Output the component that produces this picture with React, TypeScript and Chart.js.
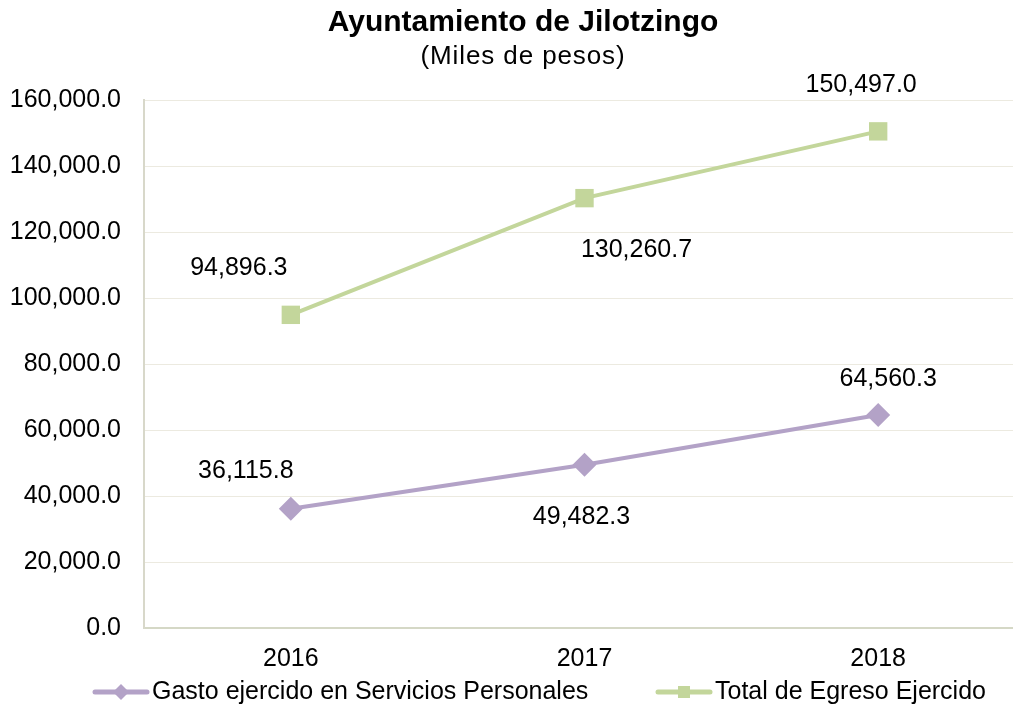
import React, { useEffect, useRef } from 'react';
import { Chart, registerables } from 'chart.js';

Chart.register(...registerables);

const categories = ['2016', '2017', '2018'];
const gastoServiciosPersonales = [36115.8, 49482.3, 64560.3];
const totalEgresoEjercido = [94896.3, 130260.7, 150497.0];
const seriesNames = ['Gasto ejercido en Servicios Personales', 'Total de Egreso Ejercido'];
const yMin = 0;
const yMax = 160000;
const yStep = 20000;
const titleText = 'Ayuntamiento de Jilotzingo';
const subtitleText = '(Miles de pesos)';

// styling
const PURPLE = '#B3A2C7';
const GREEN = '#C3D69B';
const FONT = '"Liberation Sans", Arial, sans-serif';
const W = 1046;
const H = 709;
const labelOffsets = [
  [[-45, -38], [-3, 52], [10, -36]],
  [[-52, -47], [52, 52], [-17, -46]],
];

const fmt = (v: number) =>
  v.toLocaleString('en-US', { minimumFractionDigits: 1, maximumFractionDigits: 1 });

const drawMarker = (ctx: CanvasRenderingContext2D, style: string, x: number, y: number, r: number, color: string) => {
  ctx.save();
  ctx.fillStyle = color;
  ctx.beginPath();
  if (style === 'diamond') {
    ctx.moveTo(x, y - r);
    ctx.lineTo(x + r, y);
    ctx.lineTo(x, y + r);
    ctx.lineTo(x - r, y);
    ctx.closePath();
  } else {
    ctx.rect(x - r, y - r, 2 * r, 2 * r);
  }
  ctx.fill();
  ctx.restore();
};

const decorPlugin = {
  id: 'decor',
  afterDatasetsDraw(chart: any) {
    const ctx: any = chart.ctx;
    ctx.save();
    // data labels
    ctx.fillStyle = '#000';
    ctx.font = `25px ${FONT}`;
    ctx.textAlign = 'center';
    ctx.textBaseline = 'middle';
    chart.data.datasets.forEach((ds: any, di: number) => {
      const meta = chart.getDatasetMeta(di);
      meta.data.forEach((pt: any, i: number) => {
        const [dx, dy] = labelOffsets[di][i];
        ctx.fillText(fmt(ds.data[i]), pt.x + dx, pt.y + dy);
      });
    });
    // title
    ctx.font = `bold 30px ${FONT}`;
    ctx.fillText(titleText, 523, 23);
    ctx.font = `26px ${FONT}`;
    ctx.letterSpacing = '0.9px';
    ctx.fillText(subtitleText, 523, 57);
    ctx.letterSpacing = '0px';
    // legend
    ctx.font = `25px ${FONT}`;
    const items = [
      { x: 95, color: PURPLE, style: 'diamond', r: 8, text: seriesNames[0] },
      { x: 658, color: GREEN, style: 'square', r: 6, text: seriesNames[1] },
    ];
    const ly = 692;
    items.forEach((it) => {
      ctx.strokeStyle = it.color;
      ctx.lineWidth = 5;
      ctx.lineCap = 'round';
      ctx.beginPath();
      ctx.moveTo(it.x, ly);
      ctx.lineTo(it.x + 52, ly);
      ctx.stroke();
      drawMarker(ctx, it.style, it.x + 26, ly, it.r, it.color);
      ctx.fillStyle = '#000';
      ctx.textAlign = 'left';
      ctx.fillText(it.text, it.x + 57, ly);
    });
    ctx.restore();
  },
};

export default function App() {
  const ref = useRef<HTMLCanvasElement>(null);
  useEffect(() => {
    document.body.style.margin = '0';
    document.body.style.overflow = 'hidden';
    const chart = new Chart(ref.current as HTMLCanvasElement, {
      type: 'line',
      data: {
        labels: categories,
        datasets: [
          {
            label: seriesNames[0],
            data: gastoServiciosPersonales,
            borderColor: PURPLE,
            backgroundColor: PURPLE,
            borderWidth: 4,
            pointStyle: 'rectRot',
            pointRadius: 12,
            pointBorderWidth: 0,
            tension: 0,
          },
          {
            label: seriesNames[1],
            data: totalEgresoEjercido,
            borderColor: GREEN,
            backgroundColor: GREEN,
            borderWidth: 4,
            pointStyle: 'rect',
            pointRadius: 13,
            pointBorderWidth: 0,
            tension: 0,
          },
        ],
      },
      options: {
        responsive: false,
        animation: false,
        layout: { padding: { top: 100, right: 21, bottom: 31, left: 0 } },
        plugins: {
          legend: { display: false },
          title: { display: false },
          tooltip: { enabled: false },
        },
        scales: {
          x: {
            offset: true,
            grid: { display: false, drawTicks: false },
            border: { display: true, color: '#D5D8C6', width: 2 },
            ticks: { color: '#000', font: { family: FONT, size: 25 }, padding: 16 },
            afterFit: (s: any) => {
              s.height = 50;
            },
          },
          y: {
            min: yMin,
            max: yMax,
            ticks: {
              stepSize: yStep,
              color: '#000',
              font: { family: FONT, size: 25 },
              padding: 23,
              callback: (v: any) => fmt(Number(v)),
            },
            grid: { color: '#ECEAE0', lineWidth: 1, drawTicks: false },
            border: { display: true, color: '#D8D8CA', width: 2 },
            afterFit: (s: any) => {
              s.width = 144;
            },
          },
        },
      },
      plugins: [decorPlugin],
    } as any);
    return () => chart.destroy();
  }, []);
  return (
    <div style={{ position: 'fixed', left: 0, top: 0, width: W, height: H, background: '#fff' }}>
      <canvas ref={ref} width={W} height={H} />
    </div>
  );
}
